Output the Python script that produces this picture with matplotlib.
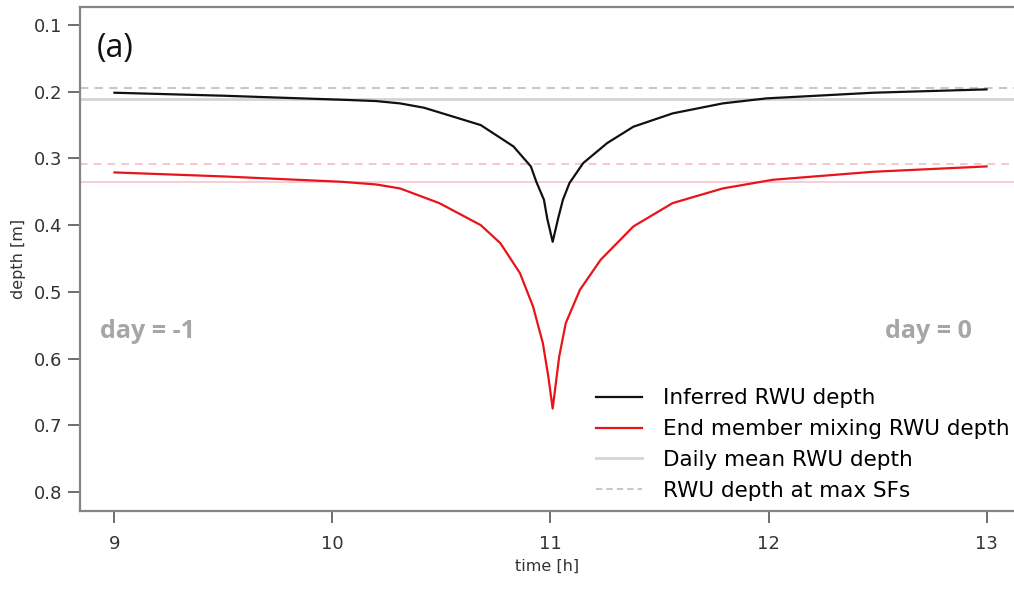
import matplotlib.pyplot as plt

# Données
black_t = [9.0, 9.5, 10.04, 10.2, 10.31, 10.42, 10.53, 10.68, 10.83, 10.91, 10.935, 10.97, 10.985, 11.01,
           11.035, 11.057, 11.087, 11.15, 11.26, 11.38, 11.56, 11.79, 11.99, 12.48, 13.0]
black_d = [0.2015, 0.206, 0.212, 0.214, 0.2175, 0.224, 0.235, 0.25, 0.282, 0.312, 0.335, 0.362, 0.39, 0.425,
           0.39, 0.362, 0.337, 0.307, 0.277, 0.2525, 0.2325, 0.2175, 0.21, 0.2015, 0.1965]

red_t = [9.0, 9.5, 10.04, 10.2, 10.31, 10.49, 10.68, 10.77, 10.86, 10.92, 10.965, 10.99, 11.01,
         11.04, 11.07, 11.135, 11.23, 11.38, 11.56, 11.79, 12.02, 12.48, 13.0]
red_d = [0.321, 0.327, 0.335, 0.339, 0.345, 0.367, 0.40, 0.427, 0.472, 0.522, 0.577, 0.627, 0.675,
         0.597, 0.547, 0.497, 0.452, 0.402, 0.367, 0.345, 0.332, 0.32, 0.312]

black_mean = 0.211
black_maxsf = 0.1945
red_mean = 0.335
red_maxsf = 0.308

legend_labels = ["Inferred RWU depth", "End member mixing RWU depth",
                 "Daily mean RWU depth", "RWU depth at max SFs"]

plt.rcParams['font.family'] = ['DejaVu Sans']

fig = plt.figure(figsize=(10.14, 5.89), dpi=100)
ax = fig.add_axes([0.0789, 0.1324, 0.9211, 0.8557])

# lignes horizontales
ax.axhline(black_maxsf, color='#c8c8c8', lw=1.5, ls=(0, (4, 3)))
ax.axhline(black_mean, color='#d4d4d4', lw=2)
ax.axhline(red_maxsf, color='#f4b8be', lw=1.1, ls=(0, (5, 4)))
ax.axhline(red_mean, color='#f6c0c6', lw=1.1)

ax.plot(black_t, black_d, color='#111111', lw=1.6)
ax.plot(red_t, red_d, color='#e8141a', lw=1.6)

ax.set_xlim(8.842, 13.126)
ax.set_ylim(0.8286, 0.073)
ax.set_xticks([9, 10, 11, 12, 13])
ax.set_yticks([0.1, 0.2, 0.3, 0.4, 0.5, 0.6, 0.7, 0.8])
ax.set_yticklabels(['0.1', '0.2', '0.3', '0.4', '0.5', '0.6', '0.7', '0.8'])

for s in ['left', 'bottom', 'top']:
    ax.spines[s].set_color('#858585')
    ax.spines[s].set_linewidth(1.6)
ax.spines['right'].set_visible(False)
ax.tick_params(axis='both', colors='#555555', labelcolor='#333333', labelsize=13,
               length=8.5, width=1.2)
ax.tick_params(axis='x', pad=9)
ax.tick_params(axis='y', pad=4)

ax.set_xlabel("time [h]", fontsize=11.5, color='#333333', labelpad=4)
ax.set_ylabel("depth [m]", fontsize=11.5, color='#333333', labelpad=6)

ax.text(8.92, 0.1345, "(a)", fontsize=23, family=['Open Sans', 'DejaVu Sans'],
        ha='left', va='center', color='#111111')
ax.text(8.933, 0.559, "day = -1", fontsize=18, family=['Open Sans', 'DejaVu Sans'],
        fontweight='bold', color='#a6a6a6', ha='left', va='center')
ax.text(12.934, 0.559, "day = 0", fontsize=18, family=['Open Sans', 'DejaVu Sans'],
        fontweight='bold', color='#a6a6a6', ha='right', va='center')

# légende
h1, = ax.plot([], [], color='#111111', lw=1.6)
h2, = ax.plot([], [], color='#e8141a', lw=1.6)
h3, = ax.plot([], [], color='#d4d4d4', lw=2)
h4, = ax.plot([], [], color='#c8c8c8', lw=1.5, ls=(0, (3, 2)))
ax.legend([h1, h2, h3, h4], legend_labels, loc='lower right', frameon=False,
          fontsize=15.5, handlelength=2.1, handletextpad=1.0, labelspacing=0.5,
          bbox_to_anchor=(1.0, 0.012), borderaxespad=0.0, borderpad=0.2)

fig.savefig("out.png", dpi=100)
